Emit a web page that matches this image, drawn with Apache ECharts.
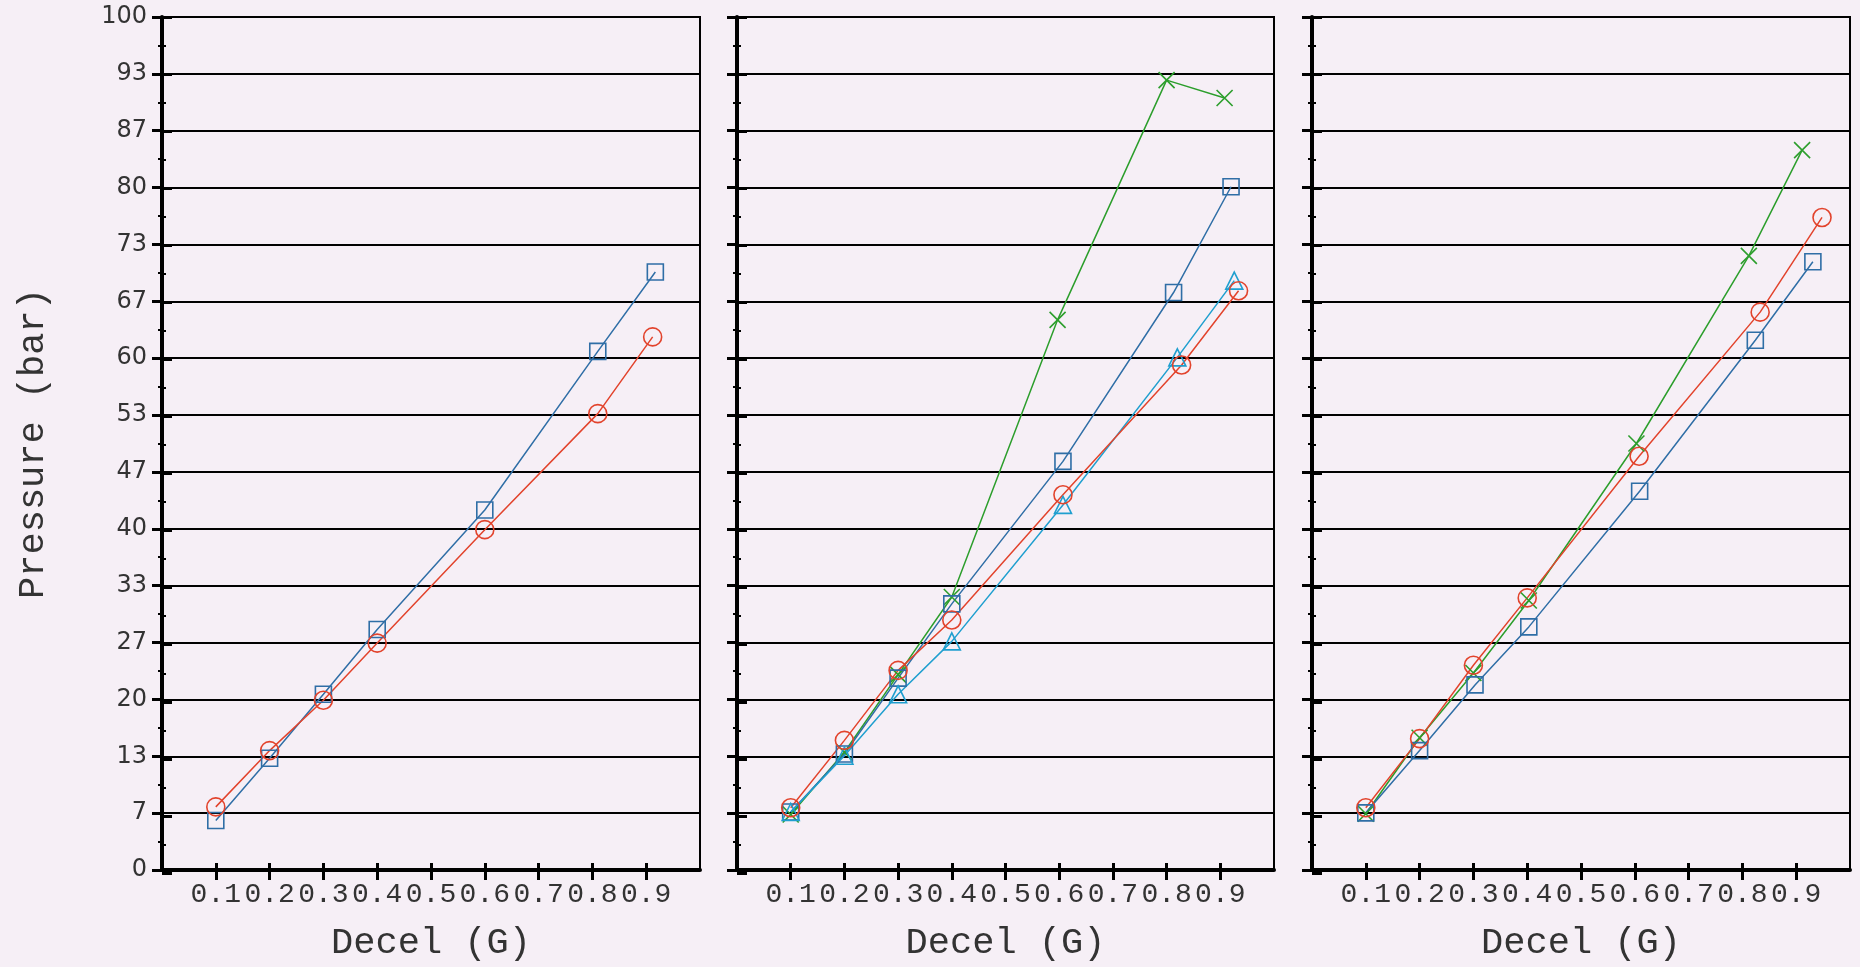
<!DOCTYPE html>
<html>
<head>
<meta charset="utf-8">
<script src="https://cdn.jsdelivr.net/npm/echarts@6/dist/echarts.min.js"></script>
<style>
html,body{margin:0;padding:0;background:#f6eff6;}
#chart{width:1860px;height:967px;}
</style>
</head>
<body>
<div id="chart"></div>
<script>
// ---- tick labels ----
const xTickValues = [0.1, 0.2, 0.3, 0.4, 0.5, 0.6, 0.7, 0.8, 0.9];
const yMin = 0, yMax = 100, yStep = 100 / 15;
const xAxisTitle = 'Decel (G)';
const yAxisTitle = 'Pressure (bar)';

// ---- panel 1 ----
const p1CircleX = [0.1, 0.2, 0.3, 0.4, 0.6, 0.81, 0.912];
const p1CircleY = [7.4, 14.0, 19.9, 26.6, 39.9, 53.5, 62.5];
const p1SquareX = [0.1, 0.2, 0.3, 0.4, 0.6, 0.81, 0.917];
const p1SquareY = [5.8, 13.1, 20.6, 28.2, 42.2, 60.8, 70.1];

// ---- panel 2 ----
const p2CircleX = [0.1, 0.2, 0.3, 0.4, 0.607, 0.828, 0.934];
const p2CircleY = [7.3, 15.2, 23.4, 29.3, 44.0, 59.2, 67.9];
const p2SquareX = [0.1, 0.2, 0.3, 0.4, 0.607, 0.813, 0.92];
const p2SquareY = [6.8, 13.6, 22.5, 31.2, 47.9, 67.7, 80.1];
const p2CrossX = [0.1, 0.2, 0.3, 0.4, 0.597, 0.8, 0.908];
const p2CrossY = [6.5, 13.8, 22.9, 32.0, 64.5, 92.6, 90.5];
const p2TriangleX = [0.1, 0.2, 0.3, 0.4, 0.607, 0.82, 0.926];
const p2TriangleY = [6.8, 13.4, 20.6, 26.8, 42.8, 60.1, 69.1];

// ---- panel 3 ----
const p3CircleX = [0.1, 0.2, 0.3, 0.4, 0.608, 0.833, 0.948];
const p3CircleY = [7.3, 15.4, 24.0, 31.9, 48.5, 65.4, 76.5];
const p3SquareX = [0.1, 0.2, 0.303, 0.403, 0.609, 0.824, 0.931];
const p3SquareY = [6.7, 14.0, 21.7, 28.5, 44.4, 62.1, 71.3];
const p3CrossX = [0.1, 0.2, 0.3, 0.403, 0.603, 0.812, 0.911];
const p3CrossY = [6.6, 15.5, 23.1, 31.6, 50.0, 72.0, 84.4];

const zip = (xs, ys) => xs.map((x, i) => [x, ys[i]]);

const COLORS = { circle: '#e2432c', square: '#2f6ea6', cross: '#2c9e2c', triangle: '#1f9fcf' };
const SYMBOLS = {
  circle: 'circle',
  square: 'rect',
  triangle: 'triangle',
  cross: 'path://M0,0L10,10M10,0L0,10'
};
const SIZES = { circle: 18, square: 16, triangle: 17, cross: 16 };

const panels = [
  [['square', p1SquareX, p1SquareY], ['circle', p1CircleX, p1CircleY]],
  [['cross', p2CrossX, p2CrossY], ['square', p2SquareX, p2SquareY], ['triangle', p2TriangleX, p2TriangleY], ['circle', p2CircleX, p2CircleY]],
  [['cross', p3CrossX, p3CrossY], ['square', p3SquareX, p3SquareY], ['circle', p3CircleX, p3CircleY]]
];

const gridRects = [
  { left: 162, width: 538 },
  { left: 737, width: 537 },
  { left: 1312, width: 538 }
];
const TOP = 17, HEIGHT = 856;

const grids = [], xAxes = [], yAxes = [], series = [];
const monoFont = "Liberation Mono, monospace";

// main grids
gridRects.forEach((r, i) => {
  grids.push({ left: r.left, width: r.width, top: TOP, height: HEIGHT, show: true,
    borderColor: '#000', borderWidth: 2, backgroundColor: 'transparent', containLabel: false });
  xAxes.push({
    gridIndex: i, type: 'value', min: 0, max: 1,
    axisLine: { show: true, onZero: false, lineStyle: { color: '#000', width: 4 } },
    axisTick: { show: true, customValues: xTickValues, length: 10, lineStyle: { color: '#000', width: 3 } },
    axisLabel: { show: true, customValues: xTickValues, formatter: v => Number(v).toFixed(1),
      margin: 11, fontFamily: monoFont, fontSize: 28, color: '#333' },
    splitLine: { show: false },
    name: xAxisTitle, nameLocation: 'middle', nameGap: 55,
    nameTextStyle: { fontFamily: monoFont, fontSize: 37, color: '#333' }
  });
  yAxes.push({
    gridIndex: i, type: 'value', min: yMin, max: yMax, interval: yStep,
    axisLine: { show: true, onZero: false, lineStyle: { color: '#000', width: 4 } },
    axisTick: { show: true, length: 10, lineStyle: { color: '#000', width: 3 } },
    minorTick: { show: true, splitNumber: 2, length: 4, lineStyle: { color: '#000', width: 2 } },
    splitLine: { show: true, lineStyle: { color: '#000', width: 2 } },
    axisLabel: { show: i === 0, formatter: v => String(Math.round(v)), margin: 15,
      fontFamily: "'DejaVu Sans', Verdana, sans-serif", fontSize: 24, color: '#333' },
    name: i === 0 ? yAxisTitle : '', nameLocation: 'middle', nameGap: 110, nameRotate: 90,
    nameTextStyle: { fontFamily: monoFont, fontSize: 37, color: '#333' }
  });
});

// overlay grids for inside ticks (ticks cross the axis)
gridRects.forEach((r, i) => {
  const gi = i + 3;
  grids.push({ left: r.left, width: r.width, top: TOP, height: HEIGHT, show: false });
  xAxes.push({
    gridIndex: gi, type: 'value', min: 0, max: 1,
    axisLine: { show: false, onZero: false },
    axisTick: { show: true, inside: true, customValues: xTickValues, length: 10, lineStyle: { color: '#000', width: 3 } },
    axisLabel: { show: false }, splitLine: { show: false }
  });
  yAxes.push({
    gridIndex: gi, type: 'value', min: yMin, max: yMax, interval: yStep,
    axisLine: { show: false, onZero: false },
    axisTick: { show: true, inside: true, length: 10, lineStyle: { color: '#000', width: 3 } },
    minorTick: { show: true, splitNumber: 2, length: 4, lineStyle: { color: '#000', width: 2 } },
    axisLabel: { show: false }, splitLine: { show: false }
  });
});

panels.forEach((list, i) => {
  list.forEach(([kind, xs, ys]) => {
    const c = COLORS[kind];
    series.push({
      type: 'line', xAxisIndex: i, yAxisIndex: i,
      data: zip(xs, ys),
      symbol: SYMBOLS[kind], symbolSize: SIZES[kind], showAllSymbol: true,
      lineStyle: { color: c, width: 1.5 },
      itemStyle: { color: 'rgba(0,0,0,0)', borderColor: c, borderWidth: 1.6 },
      emphasis: { disabled: true },
      z: 5
    });
  });
});

const chart = echarts.init(document.getElementById('chart'), null, { renderer: 'canvas' });
chart.setOption({
  backgroundColor: '#f6eff6',
  animation: false,
  grid: grids,
  xAxis: xAxes,
  yAxis: yAxes,
  series: series
});
</script>
</body>
</html>
